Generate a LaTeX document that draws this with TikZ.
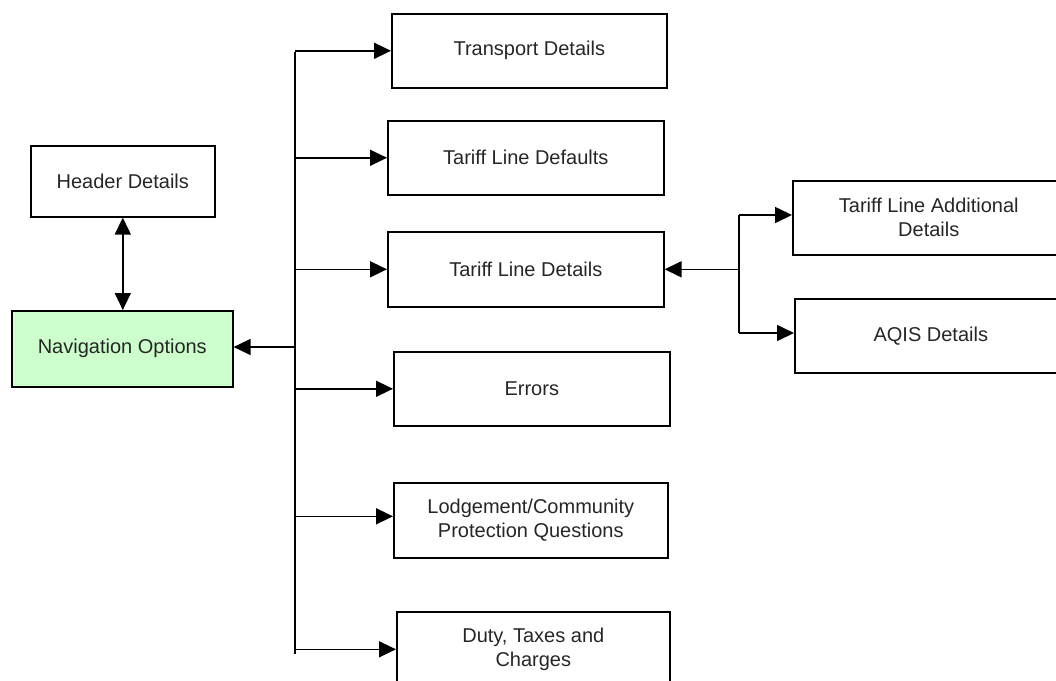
\documentclass[tikz,border=0pt]{standalone}
\usepackage{fontspec}
\setmainfont{Liberation Sans}
\usetikzlibrary{arrows.meta}
\definecolor{navgreen}{HTML}{CCFFCC}
\begin{document}
\begin{tikzpicture}[x=1pt,y=1pt,
  box/.style={draw=black, line width=1.6pt, anchor=north west, inner sep=0pt,
    align=center, font=\fontsize{20}{24}\selectfont, text=black!85},
  conn/.style={line width=1.6pt, -{Triangle[length=17pt,width=16pt]}},
  line/.style={line width=1.6pt},
  twoway/.style={line width=1.6pt, {Triangle[length=17pt,width=16pt]}-{Triangle[length=17pt,width=16pt]}}]
\useasboundingbox (0,0) rectangle (1056,-680);
\clip (0,0) rectangle (1056,-680);
% left boxes
\node[box, minimum width=184pt, minimum height=71pt] (hdr) at (30,-145) {Header Details};
\node[box, minimum width=221pt, minimum height=76pt, fill=navgreen] (nav) at (11,-310) {Navigation Options};
% middle boxes
\node[box, minimum width=275pt, minimum height=74pt] (trn) at (391,-13) {Transport Details};
\node[box, minimum width=276pt, minimum height=74pt] (tdf) at (387,-120) {Tariff Line Defaults};
\node[box, minimum width=276pt, minimum height=75pt] (tld) at (387,-231) {Tariff Line Details};
\node[box, minimum width=276pt, minimum height=74pt] (err) at (393,-351) {Errors};
\node[box, minimum width=274pt, minimum height=75pt] (lod) at (393,-482) {Lodgement/Community\\Protection Questions};
\node[box, minimum width=273pt, minimum height=75pt] (dut) at (396,-611) {Duty, Taxes and\\Charges};
% right boxes
\node[box, minimum width=272pt, minimum height=74pt] (tla) at (792,-180) {Tariff Line Additional\\Details};
\node[box, minimum width=272pt, minimum height=74pt] (aqs) at (794,-298) {AQIS Details};
% bus coordinates
\coordinate (bustop) at (295,-52);
\coordinate (busbot) at (295,-654);
\coordinate (navjoin) at (295,-347);
\coordinate (brtop) at (739,-215);
\coordinate (brbot) at (739,-333);
% connectors
\draw[twoway] (hdr.south) -- (nav.north -| hdr.south);
\draw[line] (bustop) -- (busbot);
\draw[conn] (navjoin) -- (nav.east |- navjoin);
\draw[conn] (bustop |- trn.west) -- (trn.west);
\draw[conn] (bustop |- tdf.west) -- (tdf.west);
\draw[conn] (bustop |- tld.west) -- (tld.west);
\draw[conn] (bustop |- err.west) -- (err.west);
\draw[conn] (bustop |- lod.west) ++(0,4) -- ([yshift=4pt]lod.west);
\draw[conn] (busbot |- dut.west) -- (dut.west);
% right branch
\draw[line] (brtop) -- (brbot);
\draw[conn] (brtop |- tld.east) -- (tld.east);
\draw[conn] (brtop) -- (tla.west |- brtop);
\draw[conn] (brbot) -- (aqs.west |- brbot);
\end{tikzpicture}
\end{document}
